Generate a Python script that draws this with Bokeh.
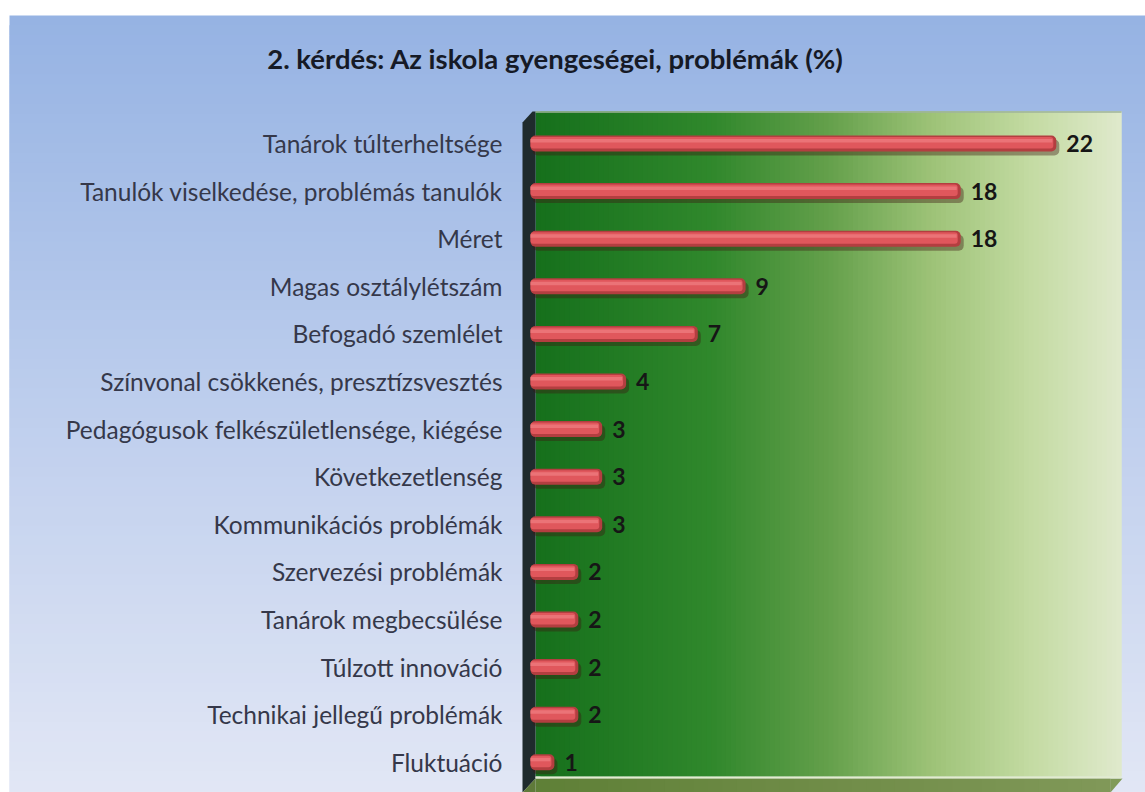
import numpy as np
from bokeh.plotting import figure
from bokeh.models import Range1d, ColumnDataSource
from bokeh.core.properties import value
from bokeh.embed import file_html
from bokeh.resources import INLINE

# ---------------- data ----------------
title_text = "2. kérdés: Az iskola gyengeségei, problémák (%)"
categories = [
    "Tanárok túlterheltsége",
    "Tanulók viselkedése, problémás tanulók",
    "Méret",
    "Magas osztálylétszám",
    "Befogadó szemlélet",
    "Színvonal csökkenés, presztízsvesztés",
    "Pedagógusok felkészületlensége, kiégése",
    "Következetlenség",
    "Kommunikációs problémák",
    "Szervezési problémák",
    "Tanárok megbecsülése",
    "Túlzott innováció",
    "Technikai jellegű problémák",
    "Fluktuáció",
]
values = [22, 18, 18, 9, 7, 4, 3, 3, 3, 2, 2, 2, 2, 1]

# ---------------- geometry helpers (pixels -> data) ----------------
W, H = 1145, 792
PX = 23.9            # pixels per percent
X0 = 530             # x pixel of value 0
Y0 = 143             # y pixel of first category
DY = 47.6            # pixels per category


def rx(px):
    return (px - X0) / PX


def ry(py):
    return (py - Y0) / DY


p = figure(width=W, height=H,
           x_range=Range1d(rx(0), rx(W)), y_range=Range1d(ry(H), ry(0)),
           output_backend="svg", toolbar_location=None,
           x_axis_location=None, y_axis_location=None,
           min_border=0, background_fill_color="white",
           border_fill_color="white", outline_line_color=None)
p.grid.visible = False


def lerp_colors(stops, t):
    for (t0, c0), (t1, c1) in zip(stops[:-1], stops[1:]):
        if t <= t1:
            f = (t - t0) / (t1 - t0) if t1 > t0 else 0
            c = [int(round(a + (b - a) * f)) for a, b in zip(c0, c1)]
            return "#%02x%02x%02x" % tuple(c)
    return "#%02x%02x%02x" % tuple(stops[-1][1])


# ---------------- blue page background (vertical gradient) ----------------
nb = 80
edges = np.linspace(15, 800, nb + 1)
step = edges[1] - edges[0]
blue_stops = [(0.0, (150, 179, 227)), (0.5, (190, 206, 237)), (1.0, (226, 231, 245))]
p.quad(left=rx(9), right=rx(1160),
       top=[ry(e) for e in edges[:-1]], bottom=[ry(e + 2.0 * step) for e in edges[:-1]],
       fill_color=[lerp_colors(blue_stops, k / (nb - 1)) for k in range(nb)],
       line_color=None)

# ---------------- green plot panel (horizontal gradient) ----------------
ng = 120
gx = np.linspace(535, 1121, ng + 1)
gstep = gx[1] - gx[0]
green_stops = [(0.0, (22, 112, 28)), (0.3, (48, 136, 44)), (0.5, (100, 160, 75)),
               (0.68, (158, 195, 120)), (0.85, (196, 219, 163)), (1.0, (223, 233, 203))]
p.quad(left=[rx(a) for a in gx[:-1]], right=[rx(min(a + 2.0 * gstep, 1121)) for a in gx[:-1]],
       top=ry(111), bottom=ry(776),
       fill_color=[lerp_colors(green_stops, k / (ng - 1)) for k in range(ng)],
       line_color=None)

# 3D wall (left) and floor (bottom)
p.patch(x=[rx(522), rx(532), rx(535), rx(535), rx(522)],
        y=[ry(122), ry(111), ry(111), ry(778), ry(792)],
        fill_color="#1f2b2d", line_color=None)
ng2 = 40
fx = np.linspace(535, 1110, ng2 + 1)
fstep = fx[1] - fx[0]
floor_stops = [(0.0, (95, 128, 55)), (1.0, (128, 152, 88))]
p.quad(left=[rx(a) for a in fx[:-1]], right=[rx(min(a + 2.0 * fstep, 1110)) for a in fx[:-1]],
       top=ry(778), bottom=ry(792),
       fill_color=[lerp_colors(floor_stops, k / (ng2 - 1)) for k in range(ng2)],
       line_color=None)
p.patch(x=[rx(1110), rx(1122), rx(1110)], y=[ry(778), ry(778), ry(792)],
        fill_color="#809a58", line_color=None)
p.patch(x=[rx(522), rx(535), rx(535)], y=[ry(792), ry(778), ry(792)],
        fill_color="#5f7a3a", line_color=None)
p.line(x=[rx(535), rx(1121)], y=[ry(777), ry(777)], line_color="#e2ebcf", line_width=2)
p.line(x=[rx(535), rx(1121)], y=[ry(111.5), ry(111.5)], line_color="#9fb59a", line_width=1.5)

# ---------------- bars (cylinder look) ----------------
idx = list(range(len(values)))
h = 8.0 / DY

p.quad(left=rx(532), right=[v + 3 / PX for v in values],
       top=[i - h + 4 / DY for i in idx], bottom=[i + h + 4 / DY for i in idx],
       fill_color="#3b1a12", fill_alpha=0.4, line_color=None, border_radius=5)
p.quad(left=0, right=values, top=[i - h for i in idx], bottom=[i + h for i in idx],
       fill_color="#b33e40", line_color=None, border_radius=5)
p.quad(left=0, right=[v - 3 / PX for v in values],
       top=[i - h + 1.5 / DY for i in idx], bottom=[i + h - 3.0 / DY for i in idx],
       fill_color="#e0575c", line_color=None, border_radius=3)
p.quad(left=0, right=[v - 4 / PX for v in values],
       top=[i - h + 3.5 / DY for i in idx], bottom=[i - h + 7 / DY for i in idx],
       fill_color="#ee7b7e", fill_alpha=0.8, line_color=None)

# value labels
p.text(x=[v + 10 / PX for v in values], y=idx, text=[str(v) for v in values],
       text_font=value("Lato"), text_font_style="bold", text_font_size="23px",
       text_color="#161616", text_baseline="middle", text_align="left")

# category labels
p.text(x=rx(502), y=idx, text=categories,
       text_font=value("Lato"), text_font_size="24.5px",
       text_color="#35384a", text_baseline="middle", text_align="right")

# title
p.text(x=[rx(555)], y=[ry(58)], text=[title_text],
       text_font=value("Lato"), text_font_style="bold", text_font_size="27.5px",
       text_color="#161a26", text_baseline="middle", text_align="center")

open("out.html", "w").write(file_html(p, INLINE))
